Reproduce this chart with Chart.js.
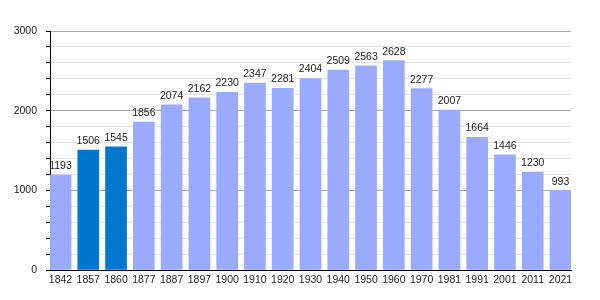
<!DOCTYPE html>
<html>
<head>
<meta charset="utf-8">
<script src="https://cdn.jsdelivr.net/npm/chart.js@4/dist/chart.umd.min.js"></script>
<style>
    html, body { margin: 0; padding: 0; background: #fff; }
    #wrap { width: 600px; height: 300px; }
</style>
</head>
<body>
<div id="wrap"><canvas id="popChart"></canvas></div>
<script>
var years = ['1842', '1857', '1860', '1877', '1887', '1897', '1900', '1910', '1920', '1930',
             '1940', '1950', '1960', '1970', '1981', '1991', '2001', '2011', '2021'];
var population = [1193, 1506, 1545, 1856, 2074, 2162, 2230, 2347, 2281, 2404,
                  2509, 2563, 2628, 2277, 2007, 1664, 1446, 1230, 993];
var highlighted = ['1857', '1860'];

var FONT = { family: "'Liberation Sans', Arial, sans-serif", size: 10.5 };
var BAR_W = 21;
var PLOT_W = 521;

// bars fill the plot edge to edge, so work out how far the axis reaches past the first/last bar
var pitch = (PLOT_W - BAR_W) / (years.length - 1);
var edge = (BAR_W / 2) / pitch;

// values written above each bar
var valueLabels = {
    id: 'valueLabels',
    afterDatasetsDraw: function (chart) {
        var ctx = chart.ctx;
        var meta = chart.getDatasetMeta(0);
        ctx.save();
        ctx.font = FONT.size + 'px ' + FONT.family;
        ctx.fillStyle = '#222';
        ctx.textAlign = 'center';
        ctx.textBaseline = 'alphabetic';
        meta.data.forEach(function (bar, i) {
            ctx.fillText(String(population[i]), bar.x, bar.y - 6);
        });
        ctx.restore();
    }
};

var ctx = document.getElementById('popChart').getContext('2d');
var popChart = new Chart(ctx, {
    type: 'bar',
    data: {
        datasets: [{
            data: years.map(function (y, i) { return { x: i, y: population[i] }; }),
            backgroundColor: years.map(function (y) {
                return highlighted.indexOf(y) >= 0 ? '#0077cc' : '#99aaff';
            }),
            barThickness: BAR_W,
            borderWidth: 0
        }]
    },
    plugins: [valueLabels],
    options: {
        responsive: true,
        maintainAspectRatio: false,
        animation: false,
        layout: { padding: { top: 31, right: 29, left: 0, bottom: 0 } },
        plugins: {
            legend: { display: false },
            tooltip: { enabled: false }
        },
        scales: {
            x: {
                type: 'linear',
                offset: false,
                min: -edge,
                max: years.length - 1 + edge,
                afterBuildTicks: function (scale) {
                    scale.ticks = years.map(function (y, i) { return { value: i }; });
                },
                afterFit: function (scale) { scale.height = 30; },
                grid: { display: false, drawTicks: false },
                border: { display: true, color: '#000', width: 1 },
                ticks: {
                    padding: 4,
                    color: '#222',
                    font: FONT,
                    maxRotation: 0,
                    autoSkip: false,
                    callback: function (v) { return years[v]; }
                }
            },
            y: {
                min: 0,
                max: 3000,
                afterFit: function (scale) { scale.width = 50; },
                grid: {
                    color: function (c) { return c.tick.value % 1000 === 0 ? '#aaaaaa' : '#e2e2e2'; },
                    tickColor: '#000',
                    tickLength: 4
                },
                border: { display: true, color: '#000', width: 1 },
                ticks: {
                    stepSize: 200,
                    padding: 9,
                    color: '#222',
                    font: FONT,
                    autoSkip: false,
                    callback: function (v) { return v % 1000 === 0 ? v : ''; }
                }
            }
        }
    }
});
</script>
</body>
</html>
